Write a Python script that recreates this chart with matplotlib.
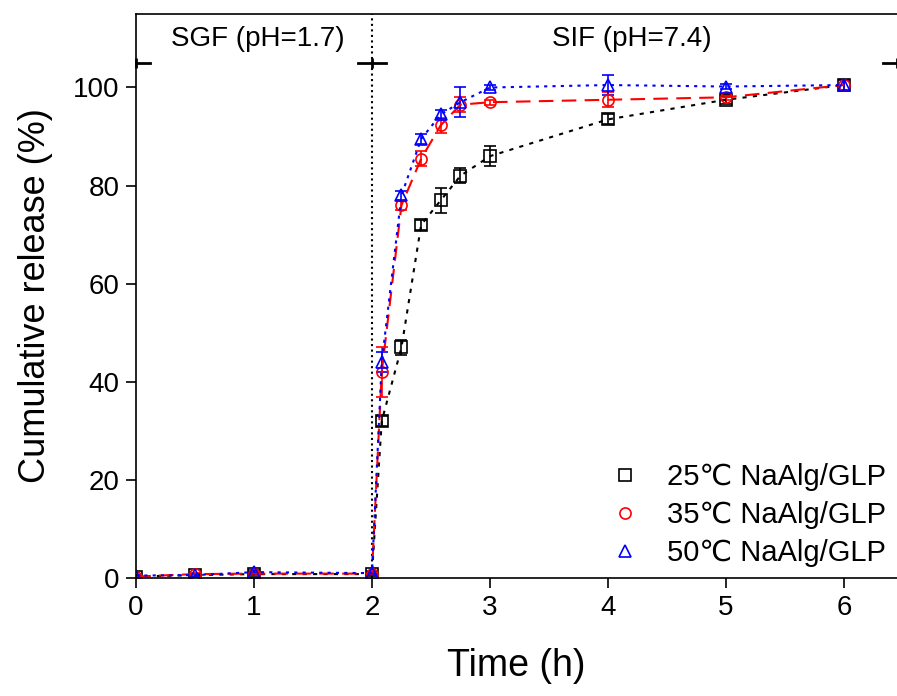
import matplotlib.pyplot as plt
import numpy as np

# Release time points (h)
time = [0, 0.5, 1, 2, 2.083, 2.25, 2.417, 2.583, 2.75, 3, 4, 5, 6]

# Cumulative release (%) and standard deviations
rel_25 = [0.3, 0.6, 0.8, 0.8, 32, 47, 72, 77, 82, 86, 93.5, 97.5, 100.5]
err_25 = [0.2, 0.3, 0.3, 0.3, 1.0, 1.5, 1.0, 2.5, 1.5, 2.0, 1.0, 0.8, 1.0]
rel_35 = [0.3, 0.8, 0.9, 0.9, 42, 76, 85.5, 92.3, 96.5, 97, 97.5, 98, 100.5]
err_35 = [0.2, 0.3, 0.3, 0.3, 5.0, 1.0, 1.5, 1.5, 1.5, 0.5, 1.5, 0.5, 1.0]
rel_50 = [0.5, 0.6, 1.2, 1.0, 44, 78, 89.5, 94.5, 97, 100, 100.5, 100.2, 100.5]
err_50 = [0.2, 0.3, 0.4, 0.4, 2.0, 1.0, 1.0, 1.0, 3.0, 0.5, 2.0, 0.5, 1.0]

labels = ['25\u2103 NaAlg/GLP', '35\u2103 NaAlg/GLP', '50\u2103 NaAlg/GLP']

# Phase annotation
phase_names = ['SGF (pH=1.7)', 'SIF (pH=7.4)']
phase_edges = [0, 2, 6.45]

plt.rcParams['font.family'] = ['Liberation Sans', 'DejaVu Sans']

fig = plt.figure(figsize=(8.97, 6.96), dpi=100)
ax = fig.add_axes([0.1516, 0.1695, 0.8484, 0.8105])

styles = [
  dict(color='black', marker='s', ls=(0, (2, 3))),
  dict(color='red', marker='o', ls=(0, (7, 4))),
  dict(color='blue', marker='^', ls=(0, (1.5, 2.5))),
]
series = [(rel_25, err_25), (rel_35, err_35), (rel_50, err_50)]

for (y, e), st, lab in zip(series, styles, labels):
  ax.errorbar(time, y, yerr=e, color=st['color'], ls=st['ls'], lw=1.5,
              marker=st['marker'], ms=8, mfc='none', mew=1.2,
              capsize=4, elinewidth=1.2, label=lab)

# Phase boundary
ax.axvline(2, color='black', ls=':', lw=1.5)

# Phase bracket caps
for xb in phase_edges:
  ax.plot([xb], [105], marker='|', ms=7, mew=2, color='black', clip_on=False)
for x0, x1 in zip(phase_edges[:-1], phase_edges[1:]):
  ax.plot([x0, x0 + 0.12], [105, 105], color='black', lw=2, clip_on=False)
  ax.plot([x1 - 0.12, x1], [105, 105], color='black', lw=2, clip_on=False)
ax.text(1.03, 109.8, phase_names[0], ha='center', va='center', fontsize=20)
ax.text(4.2, 109.8, phase_names[1], ha='center', va='center', fontsize=20)

ax.set_xlim(0, 6.45)
ax.set_ylim(0, 115)
ax.set_xticks(range(0, 7))
ax.set_yticks(range(0, 101, 20))
ax.tick_params(direction='out', length=7, width=1.2, labelsize=20, pad=5)
ax.spines['right'].set_visible(False)
for s in ['left', 'bottom', 'top']:
  ax.spines[s].set_linewidth(1.2)

ax.set_xlabel('Time (h)', fontsize=27, labelpad=20)
ax.set_ylabel('Cumulative release (%)', fontsize=26, labelpad=14)

# Legend shows markers only
handles = [plt.Line2D([], [], color=st['color'], marker=st['marker'], ls='none',
                      ms=8, mfc='none', mew=1.2) for st in styles]
ax.legend(handles, labels, loc='lower right', frameon=False, fontsize=21,
          handletextpad=0.7, handlelength=1.5, labelspacing=0.35,
          borderaxespad=0.3, bbox_to_anchor=(1.013, -0.017))

plt.savefig('out.png', dpi=100)
plt.close()
